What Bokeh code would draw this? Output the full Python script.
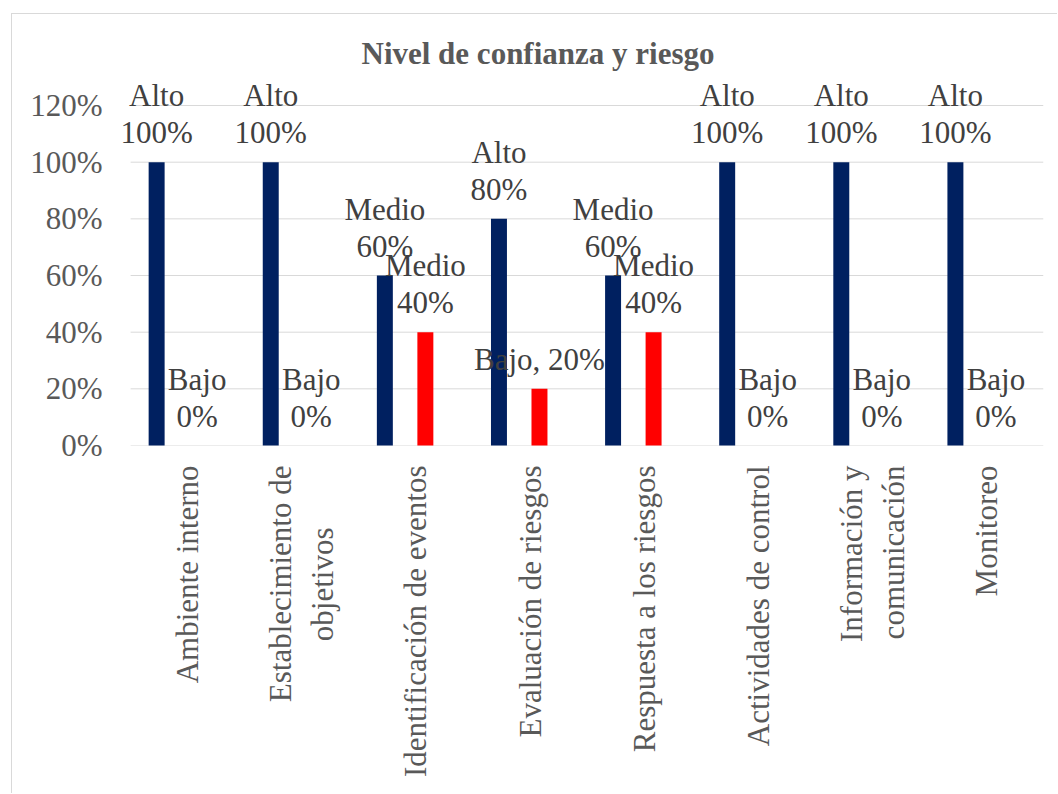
from math import pi
from bokeh.plotting import figure
from bokeh.models import ColumnDataSource, FixedTicker, PrintfTickFormatter, Range1d, LabelSet
from bokeh.transform import dodge
from bokeh.core.properties import value
from bokeh.embed import file_html
from bokeh.resources import INLINE

# ---------------- data ----------------
NBSP = "\u00a0"
categorias = [
    "Ambiente interno",
    "Establecimiento de\nobjetivos" + NBSP * 8,
    "Identificación de eventos",
    "Evaluación de riesgos",
    "Respuesta a los riesgos",
    "Actividades de control",
    "Información y\ncomunicación",
    "Monitoreo",
]
confianza = [100, 100, 60, 80, 60, 100, 100, 100]
confianza_nivel = ["Alto", "Alto", "Medio", "Alto", "Medio", "Alto", "Alto", "Alto"]
riesgo = [0, 0, 40, 20, 40, 0, 0, 0]
riesgo_nivel = ["Bajo", "Bajo", "Medio", "Bajo", "Medio", "Bajo", "Bajo", "Bajo"]
riesgo_una_linea = [False, False, False, True, False, False, False, False]
titulo = "Nivel de confianza y riesgo"
ticks_y = [0, 20, 40, 60, 80, 100, 120]

FONT = "Liberation Serif"
AZUL = "#002060"
ROJO = "#FF0000"
GRIS = "#d9d9d9"

n = len(categorias)
pos = list(range(1, n + 1))  # category positions on the x scale

# ---------------- sources ----------------
src_c = ColumnDataSource(dict(
    x=pos, val=confianza,
    l1=confianza_nivel,
    l2=[f"{v}%" for v in confianza],
))
r_l1, r_l2 = [], []
for nv, v, una in zip(riesgo_nivel, riesgo, riesgo_una_linea):
    if una:
        r_l1.append("")
        r_l2.append(f"{nv}, {v}%")
    else:
        r_l1.append(nv)
        r_l2.append(f"{v}%")
src_r = ColumnDataSource(dict(x=pos, val=riesgo, l1=r_l1, l2=r_l2))
src_g = ColumnDataSource(dict(y=ticks_y,
                              x0=[pos[0] - 0.5] * len(ticks_y),
                              x1=[pos[-1] + 0.5] * len(ticks_y)))

# ---------------- figure ----------------
p = figure(
    x_range=Range1d(pos[0] - 0.65, pos[-1] + 0.5),
    y_range=Range1d(0, 130.6),
    width=1046, height=780,
    output_backend="svg", toolbar_location=None,
    min_border_left=101, min_border_right=15,
    min_border_top=61, min_border_bottom=349,
)
p.margin = (14, 0, 0, 12)
p.styles = {"box-shadow": "-1px -1px 0 0 #d9d9d9"}
p.outline_line_color = None
p.background_fill_color = "white"
p.border_fill_color = "white"

# title
p.title.text = titulo
p.title.align = "left"
p.title.offset = 248
p.title.text_font = FONT
p.title.text_font_size = "31px"
p.title.text_font_style = "bold"
p.title.text_color = "#595959"

# grid (horizontal lines spanning the category area only)
p.xgrid.grid_line_color = None
p.ygrid.grid_line_color = None
p.segment(x0="x0", x1="x1", y0="y", y1="y", source=src_g,
          line_color=GRIS, line_width=1, level="underlay")

# y axis
p.yaxis.ticker = FixedTicker(ticks=ticks_y)
p.yaxis.formatter = PrintfTickFormatter(format="%d%%")
p.yaxis.axis_line_color = None
p.yaxis.major_tick_line_color = None
p.yaxis.minor_tick_line_color = None
p.yaxis.major_tick_out = 0
p.yaxis.major_tick_in = 0
p.yaxis.major_label_standoff = 11
p.yaxis.major_label_text_font = FONT
p.yaxis.major_label_text_font_size = "31px"
p.yaxis.major_label_text_color = "#595959"

# x axis
p.xaxis.ticker = FixedTicker(ticks=pos)
p.xaxis.major_label_overrides = {k: lab for k, lab in zip(pos, categorias)}
p.xaxis.axis_line_color = None
p.xaxis.major_tick_line_color = None
p.xaxis.minor_tick_line_color = None
p.xaxis.major_tick_out = 0
p.xaxis.major_tick_in = 0
p.xaxis.major_label_orientation = pi / 2
p.xaxis.major_label_standoff = 20
p.xaxis.major_label_text_font = FONT
p.xaxis.major_label_text_font_size = "31px"
p.xaxis.major_label_text_color = "#595959"

OFF_C = -0.272
OFF_R = 0.083
BW = 0.14

# data labels
for src, off in ((src_c, OFF_C), (src_r, OFF_R)):
    xd = dodge("x", off)
    for col, dy in (("l2", 19), ("l1", 56)):
        ls = LabelSet(x=xd, y="val", text=col, source=src, y_offset=dy,
                      text_align="center", text_baseline="alphabetic",
                      text_font=value(FONT), text_font_size="31px",
                      text_color="#404040")
        p.add_layout(ls)

# bars (same level as the labels so they are painted over them, as in the reference)
p.vbar(x=dodge("x", OFF_C), top="val", width=BW, level="annotation",
       source=src_c, fill_color=AZUL, line_color=None)
p.vbar(x=dodge("x", OFF_R), top="val", width=BW, level="annotation",
       source=src_r, fill_color=ROJO, line_color=None)

open("out.html", "w").write(file_html(p, INLINE))
